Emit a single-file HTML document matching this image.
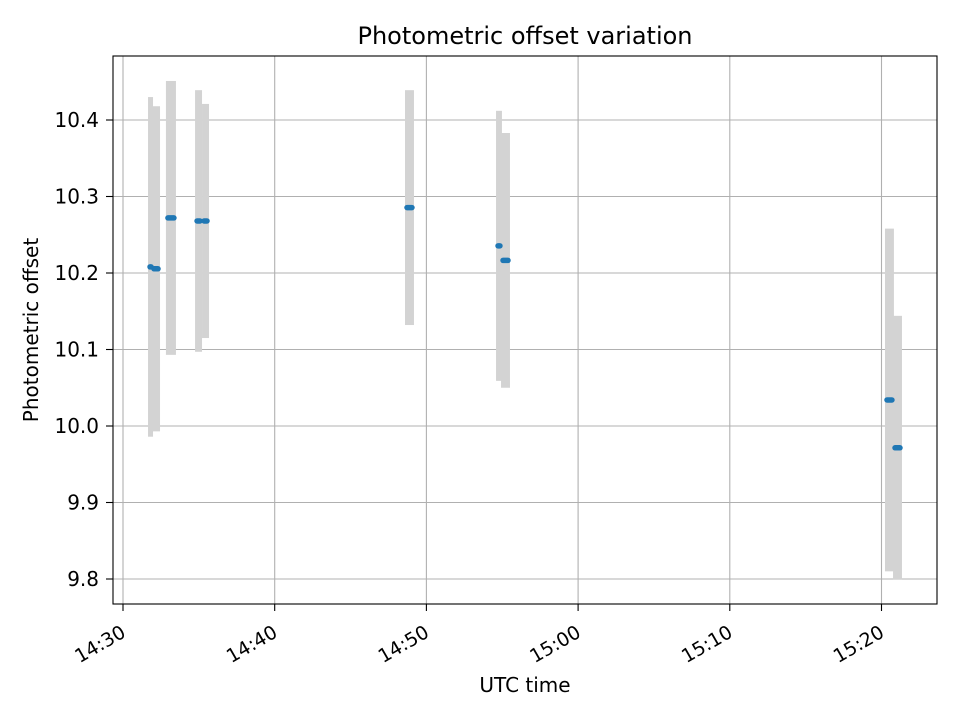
<!DOCTYPE html>
<html><head><meta charset="utf-8"><style>
body{margin:0;background:#fff;}
svg text{font-family:"DejaVu Sans","Liberation Sans",sans-serif;fill:#000;}
</style></head><body>
<svg id="chart" width="960" height="720" viewBox="0 0 960 720" xmlns="http://www.w3.org/2000/svg">
<rect x="0" y="0" width="960" height="720" fill="#fff"/>
<g id="grid"></g>
<g id="errs"></g>
<g id="pts"></g>
<rect x="113" y="56" width="824" height="548" fill="none" stroke="#000" stroke-width="1.1"/>
<g id="xt"></g>
<g id="yt"></g>
<text x="525" y="44" font-size="24" text-anchor="middle">Photometric offset variation</text>
<text x="525" y="692" font-size="20" text-anchor="middle">UTC time</text>
<text x="38" y="330" font-size="20" text-anchor="middle" transform="rotate(-90 38 330)">Photometric offset</text>
</svg>
<script>
// minutes after 14:30 UTC
const segStart = [1.65, 1.91, 2.83, 4.75, 5.21, 18.59, 24.59, 24.92, 50.23, 50.76];
const segEnd   = [1.98, 2.44, 3.49, 5.21, 5.67, 19.18, 24.98, 25.51, 50.82, 51.35];
const values   = [10.208, 10.2055, 10.272, 10.268, 10.268, 10.2855, 10.2355, 10.2165, 10.034, 9.9715];
const errors   = [0.222, 0.2125, 0.179, 0.171, 0.153, 0.1535, 0.1765, 0.1665, 0.224, 0.1725];
const xTickMin = [0, 10, 20, 30, 40, 50];
const xTickLabels = ["14:30", "14:40", "14:50", "15:00", "15:10", "15:20"];
const yTicks = [9.8, 9.9, 10.0, 10.1, 10.2, 10.3, 10.4];
const yTickLabels = ["9.8", "9.9", "10.0", "10.1", "10.2", "10.3", "10.4"];

const NS = "http://www.w3.org/2000/svg";
const xs = m => 123 + m * 15.17;
const ys = v => 426 - (v - 10) * 765;
function mk(tag, attrs, parent) {
  const e = document.createElementNS(NS, tag);
  for (const k in attrs) e.setAttribute(k, attrs[k]);
  parent.appendChild(e);
  return e;
}
const grid = document.getElementById('grid'), xt = document.getElementById('xt'), yt = document.getElementById('yt');
const errs = document.getElementById('errs'), pts = document.getElementById('pts');

xTickMin.forEach((m, i) => {
  const x = xs(m);
  const g = mk('line', {x1: x, x2: x, y1: 56, y2: 604, stroke: '#b0b0b0', 'stroke-width': 1.1}, grid);
  
  
  const t = mk('line', {x1: x, x2: x, y1: 604, y2: 611, stroke: '#000', 'stroke-width': 1.1}, xt);
  
  
  const ax = x + 4, ay = 636;
  const l = mk('text', {x: ax, y: ay, 'font-size': 19, 'text-anchor': 'end', transform: `rotate(-30 ${ax} ${ay})`}, xt);
  l.textContent = xTickLabels[i];
  
  
});
yTicks.forEach((v, i) => {
  const y = ys(v);
  const g = mk('line', {x1: 113, x2: 937, y1: y, y2: y, stroke: '#b0b0b0', 'stroke-width': 1.1}, grid);
  
  
  const t = mk('line', {x1: 106, x2: 113, y1: y, y2: y, stroke: '#000', 'stroke-width': 1.1}, yt);
  
  
  const l = mk('text', {x: 99, y: y + 7, 'font-size': 20, 'text-anchor': 'end'}, yt);
  l.textContent = yTickLabels[i];
  
  
});
values.forEach((v, i) => {
  const x0 = xs(segStart[i]), x1 = xs(segEnd[i]);
  const top = ys(v + errors[i]), bot = ys(v - errors[i]);
  const r = mk('rect', {x: x0, y: top, width: x1 - x0, height: bot - top, fill: '#d3d3d3'}, errs);
  
  
  const y = ys(v);
  const p = mk('line', {x1: x0 + 2, x2: Math.max(x1 - 2, x0 + 2.5), y1: y, y2: y, stroke: '#1f77b4', 'stroke-width': 5.5, 'stroke-linecap': 'round'}, pts);
  
  
});
</script>
</body></html>
